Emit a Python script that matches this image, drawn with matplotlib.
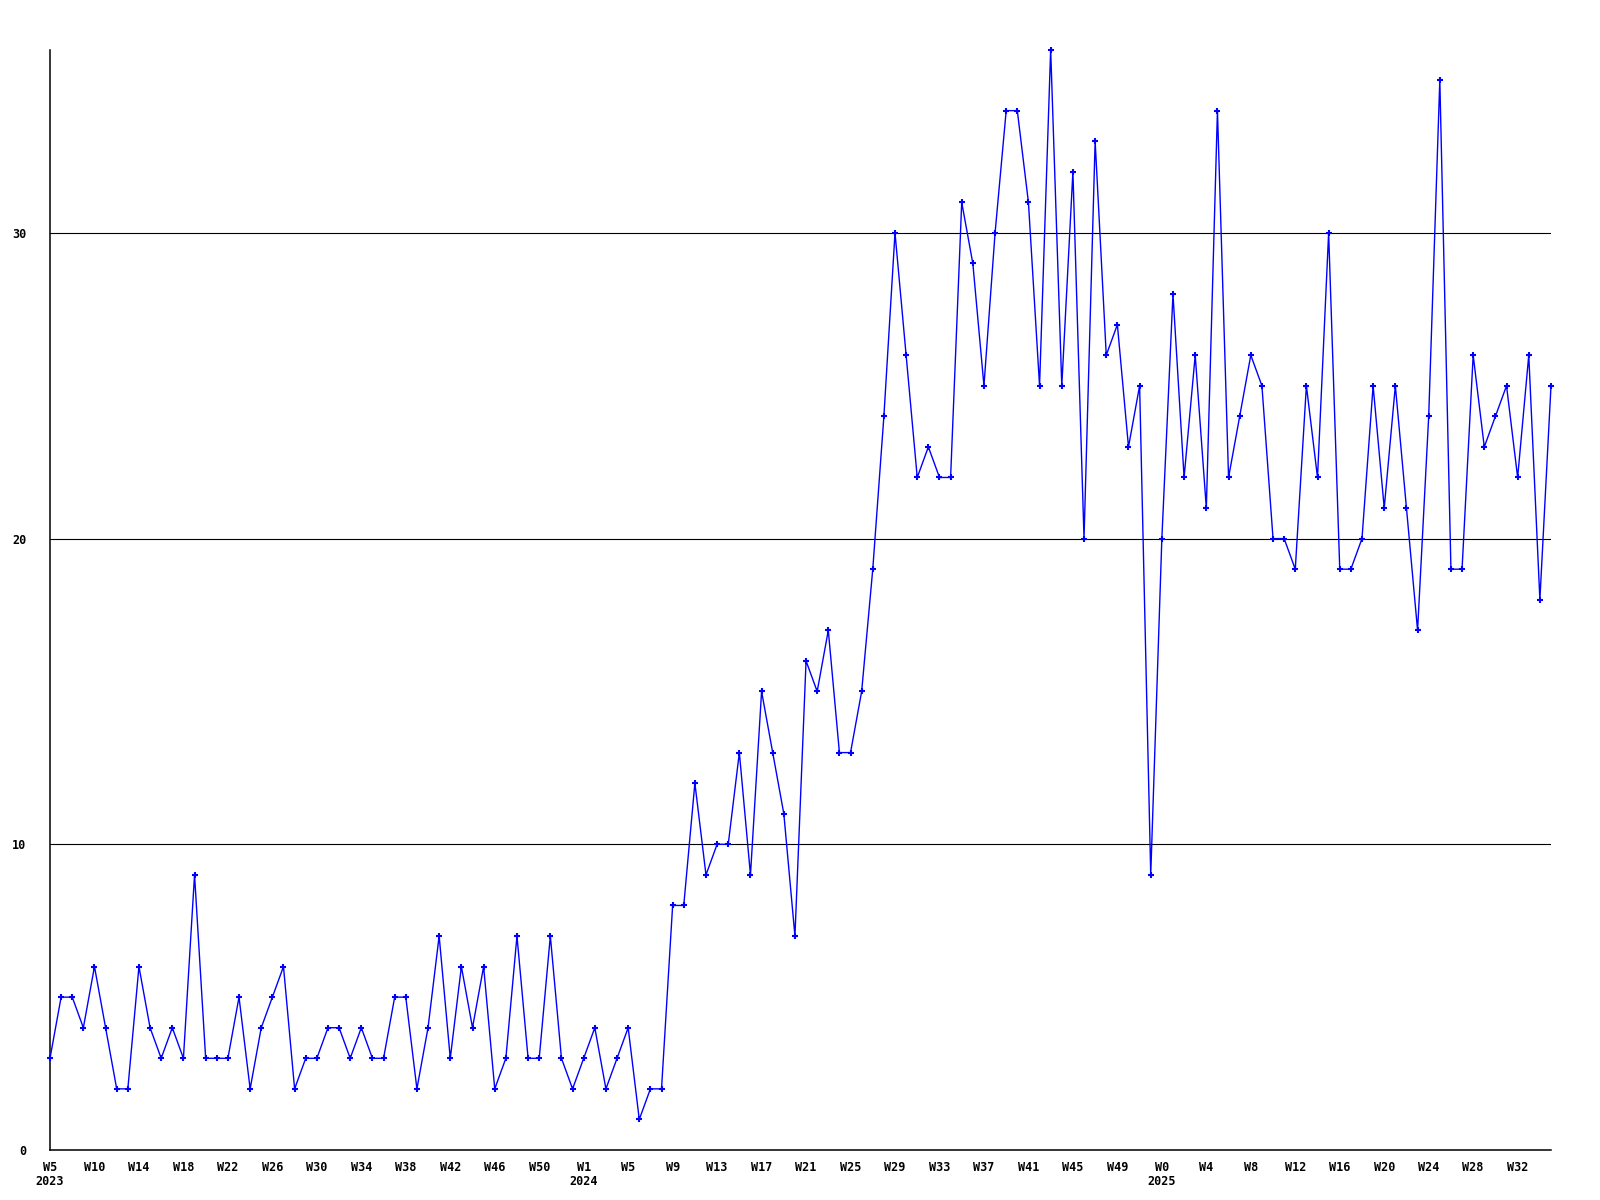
import numpy as np
import matplotlib.pyplot as plt

# weekly counts, W5 2023 .. W35 2025
counts = [3, 5, 5, 4, 6, 4, 2, 2, 6, 4, 3, 4, 3, 9, 3, 3, 3, 5, 2, 4,
          5, 6, 2, 3, 3, 4, 4, 3, 4, 3, 3, 5, 5, 2, 4, 7, 3, 6, 4, 6,
          2, 3, 7, 3, 3, 7, 3, 2, 3, 4, 2, 3, 4, 1, 2, 2, 8, 8, 12, 9,
          10, 10, 13, 9, 15, 13, 11, 7, 16, 15, 17, 13, 13, 15, 19, 24, 30, 26, 22, 23,
          22, 22, 31, 29, 25, 30, 34, 34, 31, 25, 36, 25, 32, 20, 33, 26, 27, 23, 25, 9,
          20, 28, 22, 26, 21, 34, 22, 24, 26, 25, 20, 20, 19, 25, 22, 30, 19, 19, 20, 25,
          21, 25, 21, 17, 24, 35, 19, 19, 26, 23, 24, 25, 22, 26, 18, 25]

week_labels = ['W5', 'W10', 'W14', 'W18', 'W22', 'W26', 'W30', 'W34', 'W38', 'W42', 'W46', 'W50',
               'W1', 'W5', 'W9', 'W13', 'W17', 'W21', 'W25', 'W29', 'W33', 'W37', 'W41', 'W45', 'W49',
               'W0', 'W4', 'W8', 'W12', 'W16', 'W20', 'W24', 'W28', 'W32']
year_labels = {0: '2023', 12: '2024', 25: '2025'}
yticks = [0, 10, 20, 30]

x = np.arange(len(counts))
tick_pos = x[::4][:len(week_labels)]
tick_text = [lab + ('\n' + year_labels[k] if k in year_labels else '')
             for k, lab in enumerate(week_labels)]

fig = plt.figure(figsize=(16, 12), dpi=100)
ax = fig.add_axes([50/1600, 50/1200, 1501/1600, 1100.5/1200])

ax.plot(x, counts, color='#0000ff', lw=1.0, marker='+', ms=5, mew=1.5, clip_on=False, zorder=3)

ax.set_xlim(0, len(counts) - 1)
ax.set_ylim(0, max(counts))
ax.set_yticks(yticks)
ax.set_xticks(tick_pos)
ax.set_xticklabels(tick_text)
ax.grid(axis='y', color='black', lw=0.8)
ax.set_axisbelow(True)

for s in ['top', 'right']:
    ax.spines[s].set_visible(False)
for s in ['left', 'bottom']:
    ax.spines[s].set_linewidth(1.1)

ax.tick_params(length=0, labelsize=8.5)
ax.tick_params(axis='y', pad=17)
ax.tick_params(axis='x', pad=8)
for lab in ax.get_xticklabels() + ax.get_yticklabels():
    lab.set_fontfamily('DejaVu Sans Mono')
    lab.set_fontweight('bold')
    lab.set_linespacing(1.05)

fig.savefig('out.png')
